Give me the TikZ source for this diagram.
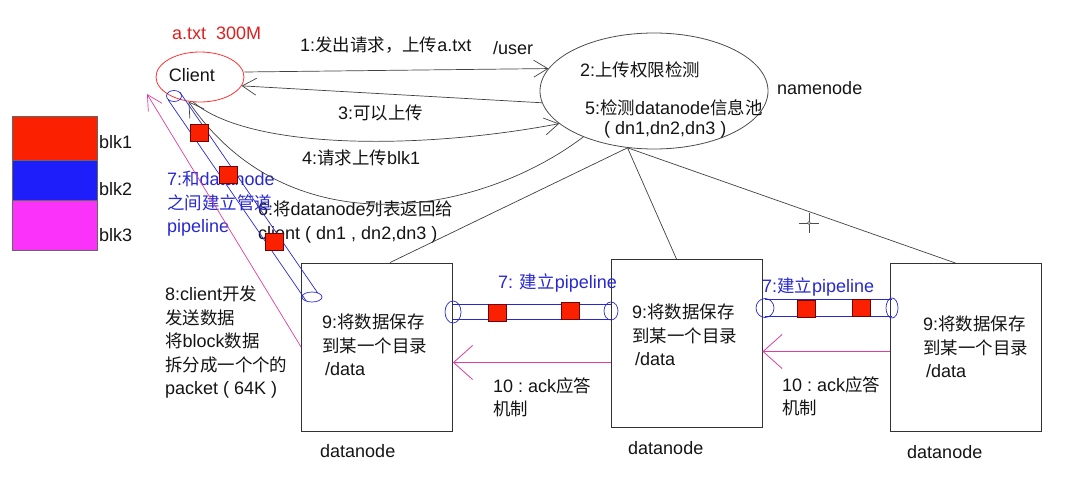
\documentclass[tikz,border=0pt]{standalone}
\usepackage{fontspec}
\setmainfont{Liberation Sans}
\newfontfamily\cjk[Scale=0.97]{Noto Sans CJK SC}
\newcommand{\zh}[1]{{\cjk #1}}
\usetikzlibrary{shapes.geometric, arrows.meta, calc, positioning}

\definecolor{blkred}{RGB}{250,32,0}
\definecolor{blkblue}{RGB}{30,30,250}
\definecolor{blkpink}{RGB}{250,50,250}
\definecolor{ackpink}{RGB}{225,60,160}
\definecolor{pipeblue}{RGB}{40,40,210}
\definecolor{filered}{RGB}{225,30,30}
\definecolor{ink}{RGB}{20,20,20}

\begin{document}
\begin{tikzpicture}[x=1pt, y=-1pt,
  txt/.style={font=\fontsize{18}{23.5}\selectfont, text=ink, inner sep=0pt},
  blue txt/.style={txt, text=pipeblue},
  link/.style={draw=black!75, line width=0.7pt},
  barb/.style={link, -{Straight Barb[length=14pt,width=17pt]}},
  ack/.style={draw=ackpink, line width=0.8pt, -{Straight Barb[length=19pt,width=34pt]}},
  box/.style={draw=black!80, line width=0.9pt, minimum width=151pt, minimum height=168pt, inner sep=0pt},
  blk/.style={draw=black!60, line width=0.7pt, minimum width=85pt, inner sep=0pt},
  pkt/.style={draw=red!45!black, fill=blkred, line width=0.6pt, minimum width=18pt, minimum height=17pt, inner sep=0pt},
  pipe/.style={draw=pipeblue, line width=0.7pt},
  pipe end/.style={pipe, ellipse, inner sep=0pt},
]
\useasboundingbox (0,0) rectangle (1067,487);

% the file and its blocks
\node[txt, text=filered, anchor=west] (afile) at (172,33) {a.txt\ \ 300M};
\node[blk, fill=blkred, minimum height=44pt] (blk1) at (54.5,138) {};
\node[blk, fill=blkblue, minimum height=40pt] (blk2) at (54.5,180) {};
\node[blk, fill=blkpink, minimum height=50pt] (blk3) at (54.5,225) {};
\node[txt, anchor=west] (blk1lbl) at (99,142) {blk1};
\node[txt, anchor=west] (blk2lbl) at (99,189) {blk2};
\node[txt, anchor=west] (blk3lbl) at (99,235) {blk3};

% client and namenode
\node[ellipse, draw=red!80, line width=0.8pt, minimum width=88pt, minimum height=50pt, inner sep=0pt] (client) at (200,77) {};
\node[txt] (clientlbl) at (192,75) {Client};
\node[ellipse, draw=black!70, line width=0.8pt, minimum width=228pt, minimum height=116pt, inner sep=0pt] (nn) at (654,91) {};
\node[txt, anchor=west] (nnchk) at (580,70) {2:\zh{上传权限检测}};
\node[txt, anchor=west] (nnpool) at (585,108) {5:\zh{检测}datanode\zh{信息池}};
\node[txt, anchor=west] (nnlist) at (604,130) {(\ dn1,dn2,dn3\ )};
\node[txt, anchor=west] (nnlbl) at (777,88) {namenode};

% datanodes
\node[box] (dn1) at (377,347) {};
\node[box] (dn2) at (686.5,343.5) {};
\node[box] (dn3) at (965.5,347.5) {};
\node[txt, anchor=north west, align=left] (dn1txt) at (322,314) {9:\zh{将数据保存}\\\zh{到某一个目录}\\\hspace{3pt}/data};
\node[txt, anchor=north west, align=left] (dn2txt) at (632,304) {9:\zh{将数据保存}\\\zh{到某一个目录}\\\hspace{3pt}/data};
\node[txt, anchor=north west, align=left] (dn3txt) at (923,316) {9:\zh{将数据保存}\\\zh{到某一个目录}\\\hspace{3pt}/data};
\node[txt, anchor=west] (dn1lbl) at (320,451) {datanode};
\node[txt, anchor=west] (dn2lbl) at (628,448) {datanode};
\node[txt, anchor=west] (dn3lbl) at (907,452) {datanode};

% step labels
\node[txt, anchor=west] (step1) at (300,45) {1:\zh{发出请求，上传}a.txt};
\node[txt, anchor=west] (user) at (493,48) {/user};
\node[txt, anchor=west] (step3) at (338,113) {3:\zh{可以上传}};
\node[txt, anchor=west] (step4) at (302,158) {4:\zh{请求上传}blk1};
\node[txt, anchor=north west, align=left] (step6) at (258,201) {6:\zh{将}datanode\zh{列表返回给}\\client\ (\ dn1\ ,\ dn2,dn3\ )};
\node[blue txt, anchor=north west, align=left] (step7) at (167,171) {7:\zh{和}datanode\\\zh{之间建立管道}\\pipeline};
\node[txt, anchor=north west, align=left] (step8) at (165,286) {8:client\zh{开发}\\\zh{发送数据}\\\zh{将}block\zh{数据}\\\zh{拆分成一个个的}\\packet\ (\ 64K\ )};
\node[blue txt, anchor=west] (pipe12lbl) at (498,283) {7: \zh{建立}pipeline};
\node[blue txt, anchor=west] (pipe23lbl) at (762,287) {7:\zh{建立}pipeline};
\node[txt, anchor=north west, align=left] (ack12lbl) at (493,377) {10\ :\ ack\zh{应答}\\\zh{机制}};
\node[txt, anchor=north west, align=left] (ack23lbl) at (782,376) {10\ :\ ack\zh{应答}\\\zh{机制}};

% requests between client and namenode
\draw[barb] ([yshift=5pt]client.east) -- (nn.168);
\draw[barb] (nn.186) -- (client.-12);
\draw[barb] (client.255) .. controls (250,150) and (420,150) .. (nn.199);
\draw[barb] (nn.213) .. controls (480,215) and (290,250) .. (client.245);

% namenode knows the datanodes
\foreach \d/\s in {dn1/13, dn2/-10, dn3/-10}
  \draw[link] (nn.245) -- ([xshift=\s pt]\d.north);

% ack and packets back to client
\coordinate (sendtip) at (147,94);
\draw[draw=ackpink, line width=0.7pt, -{Straight Barb[length=15pt,width=16pt]}] (dn1.west) -- (sendtip);
\draw[ack] ([yshift=-19pt]dn2.west) -- ([yshift=-19pt]dn2.west -| dn1.east);
\draw[ack] ([yshift=-4pt]dn3.west) -- ([yshift=-4pt]dn3.west -| dn2.east);

% pipeline client -> dn1
\node[pipe end, minimum width=15pt, minimum height=11pt] (c0) at (174,96) {};
\node[pipe end, minimum width=20pt, minimum height=10pt] (c1) at (312,297) {};
\draw[pipe] ($(c0.center)!7pt!90:(c1.center)$) -- ($(c1.center)!7pt!-90:(c0.center)$);
\draw[pipe] ($(c0.center)!7pt!-90:(c1.center)$) -- ($(c1.center)!7pt!90:(c0.center)$);
\foreach \f [count=\i] in {0.185, 0.39, 0.725}
  \node[pkt] (cp\i) at ($(c0)!\f!(c1)$) {};

% pipeline dn1 -> dn2
\node[pipe end, minimum width=16pt, minimum height=22pt] (e1) at (453,312) {};
\node[pipe end, minimum width=14pt, minimum height=18pt] (e2) at (611,311) {};
\draw[pipe] ([yshift=8pt]e1.center) -- ([yshift=8pt]e1.center -| e2.center);
\draw[pipe] ([yshift=-7pt]e1.center) -- ([yshift=-7pt]e1.center -| e2.center);
\node[pkt] (p12a) at (497,313) {};
\node[pkt] (p12b) at (570,311) {};

% pipeline dn2 -> dn3
\node[pipe end, minimum width=18pt, minimum height=19pt] (e3) at (765,308) {};
\node[pipe end, minimum width=12pt, minimum height=20pt] (e4) at (892,308) {};
\draw[pipe] ([yshift=8.5pt]e3.center) -- ([yshift=8.5pt]e3.center -| e4.center);
\draw[pipe] ([yshift=-8.5pt]e3.center) -- ([yshift=-8.5pt]e3.center -| e4.center);
\node[pkt] (p23a) at (806,309) {};
\node[pkt] (p23b) at (861,308) {};

% mouse cursor
\draw[black!70, line width=0.6pt] (799,223) -- (819,223) (809,213) -- (809,233);
\draw[black!70, fill=white, line width=0.5pt] (809,223) circle[radius=1.5pt];
\end{tikzpicture}
\end{document}
